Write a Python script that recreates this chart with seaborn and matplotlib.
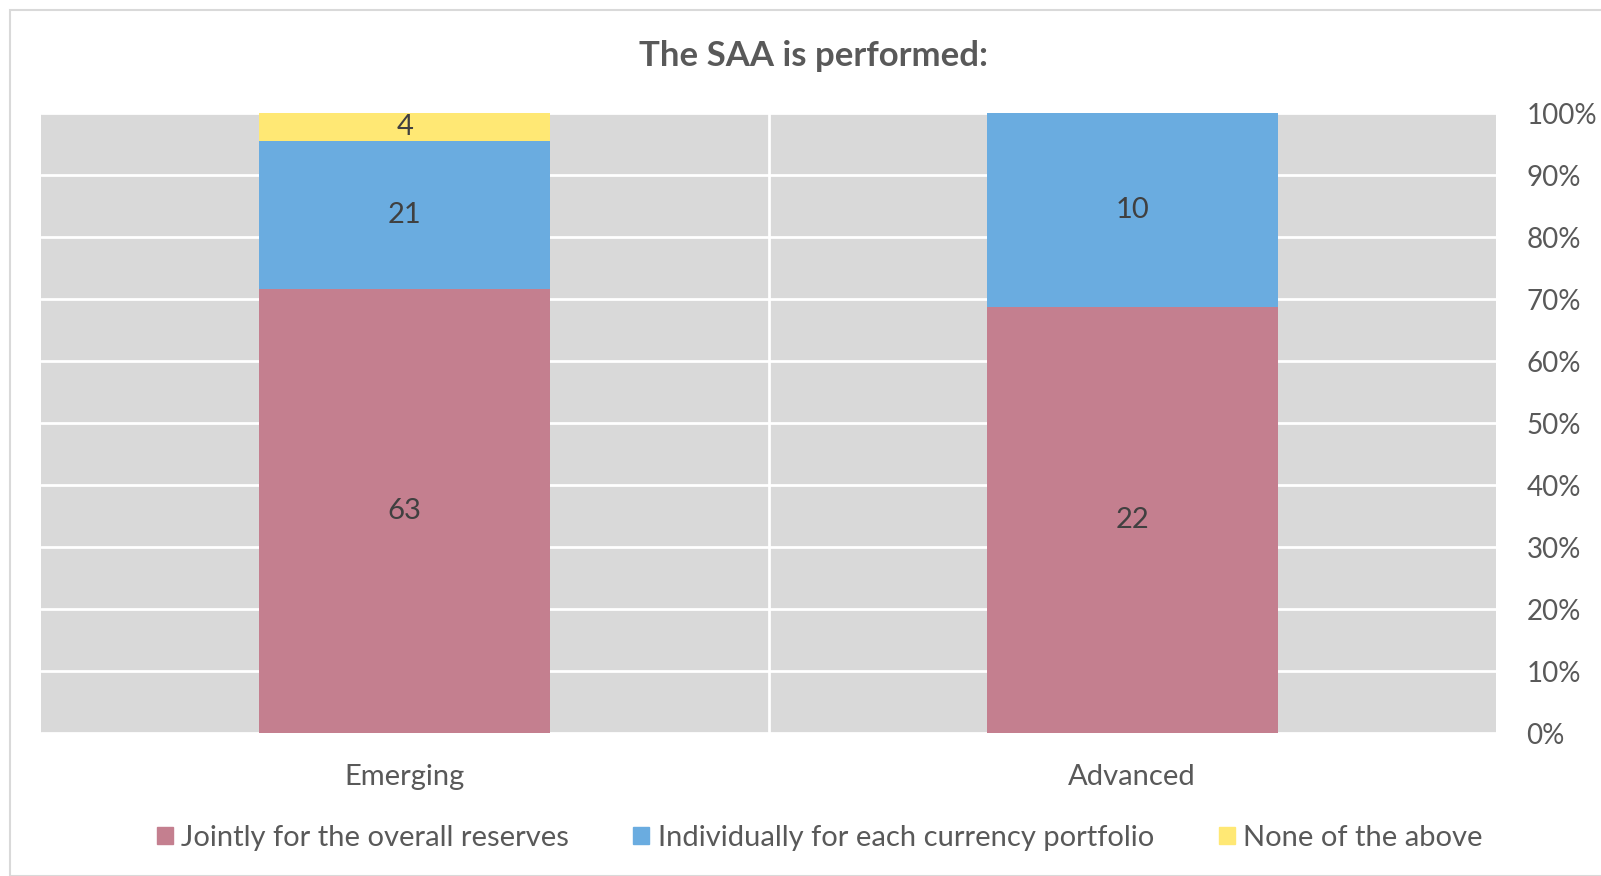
import matplotlib
matplotlib.use("Agg")
import matplotlib.pyplot as plt
import matplotlib.patches as mpatches
import numpy as np
import seaborn as sns

categories = ["Emerging", "Advanced"]
series = ["Jointly for the overall reserves",
          "Individually for each currency portfolio",
          "None of the above"]
jointly = [63, 22]
individually = [21, 10]
none_above = [4, 0]
colors = ["#c47f8f", "#6aace0", "#ffe874"]
pct_ticks = [0, 10, 20, 30, 40, 50, 60, 70, 80, 90, 100]

sns.set_style("white")
plt.rcParams["font.family"] = ["Lato", "DejaVu Sans"]

counts = np.array([jointly, individually, none_above], dtype=float)
shares = counts / counts.sum(axis=0) * 100

fig = plt.figure(figsize=(16.01, 8.76), dpi=100)
ax = fig.add_axes([41 / 1601, 1 - 733 / 876, 1455 / 1601, 620 / 876])
ax.set_facecolor("#d9d9d9")

bottom = np.zeros(len(categories))
for i, name in enumerate(series):
    sns.barplot(x=categories, y=shares[i], bottom=bottom, color=colors[i],
                saturation=1, width=0.4, ax=ax, zorder=3, linewidth=0)
    cont = ax.containers[-1]
    labels = [f"{int(v)}" if v > 0 else "" for v in counts[i]]
    ax.bar_label(cont, labels=labels, label_type="center",
                 fontsize=21, color="#404040")
    bottom = bottom + shares[i]

ax.set_xlim(-0.5, 1.5)
ax.set_ylim(0, 100)
ax.set_yticks(pct_ticks)
ax.set_yticklabels([f"{t}%" for t in pct_ticks])
ax.yaxis.tick_right()
ax.tick_params(axis="both", length=0, labelsize=20, colors="#595959")
ax.tick_params(axis="x", labelsize=21, pad=22)
ax.tick_params(axis="y", pad=22)
for t in pct_ticks:
    ax.axhline(t, color="white", lw=2, zorder=1)
ax.axvline(0.5, color="white", lw=2, zorder=1)
for s in ax.spines.values():
    s.set_visible(False)
ax.set_xlabel("")
ax.set_ylabel("")

fig.text(0.508, 1 - 56 / 876, "The SAA is performed:", ha="center",
         va="center", fontsize=25, fontweight="bold", color="#595959")

handles = [mpatches.Patch(color=c, label=s) for c, s in zip(colors, series)]
fig.legend(handles=handles, loc="center", bbox_to_anchor=(0.512, 1 - 838 / 876),
           ncol=3, frameon=False, fontsize=21, labelcolor="#595959",
           handlelength=0.55, handleheight=0.55, handletextpad=0.3,
           columnspacing=2.2)

border = mpatches.Rectangle((10 / 1601, 0.0), 1.0, 1 - 10 / 876,
                            transform=fig.transFigure, fill=False,
                            edgecolor="#d9d9d9", lw=1.5)
fig.patches.append(border)

fig.savefig("out.png", dpi=100)
